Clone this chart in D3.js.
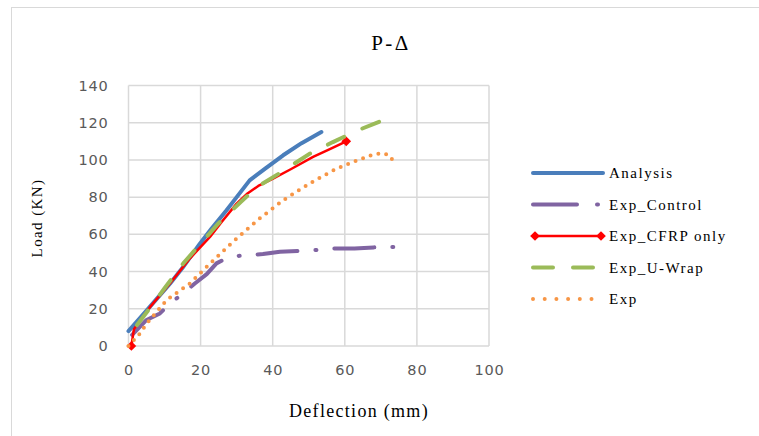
<!DOCTYPE html>
<html>
<head>
<meta charset="utf-8">
<script src="https://cdn.jsdelivr.net/npm/d3@7"></script>
<style>
  body { margin: 0; background: #fff; }
  svg { display: block; }
  .tick text { font-family: "DejaVu Sans", sans-serif; font-size: 14.5px; fill: #595959; letter-spacing: 0.8px; }
  .label { font-family: "Liberation Serif", "Times New Roman", serif; fill: #000; }
</style>
</head>
<body>
<svg width="759" height="436"></svg>
<script>
// series: [deflection mm, load kN]
var analysis = [[0,8],[5,19],[11.5,33.5],[15,42],[19.8,55],[23,63],[27.2,73],[30,80],[33.6,89],[38,95.5],[42.9,102.5],[48,109],[53.5,115]];
var expControl = [[1,6],[5,14],[8.7,17.5],[11.5,22.9],[15,28],[18.4,33.6],[21.7,38.6],[24.4,44.4],[27,47],[30,48.3],[32.7,48.8],[37.3,49.4],[42,50.6],[51.6,51.5],[56.2,52.4],[62.7,52.4],[68,53],[74.7,53.3]];
var expCfrp = [[0.8,0],[1.5,9],[6,21],[11.5,33.6],[17,47],[22.6,58.6],[26,67],[30,76.5],[33,82],[36,86],[40.1,90],[45,95],[51.2,101.6],[56,106],[60.4,110]];
var expUwrap = [[0,3],[0.3,6],[5,18],[10,31],[15.2,44.4],[20,55],[25,66],[30.9,77],[34,82.5],[37,87],[42,93],[50.3,103.4],[56.7,109.6],[64.1,116.3],[69.5,120.5]];
var exp = [[0,0],[3.2,6.8],[5,12],[10.6,24.7],[17,33.6],[23,45],[29,56],[36,68],[42.9,78.3],[47.5,84],[51.7,89],[57.7,95.3],[62.3,98.9],[67.3,102.5],[70.1,103.7],[72.5,102.5],[73.8,98]];

var xTicks = [0, 20, 40, 60, 80, 100];
var yTicks = [0, 20, 40, 60, 80, 100, 120, 140];

var series = [
  {name: "Analysis", data: analysis, color: "#4a7ebb", width: 4, dash: null, legendDash: null},
  {name: "Exp_Control", data: expControl, color: "#8064a2", width: 4, dash: "40,18,1,18", legendDash: "44,20,1,20"},
  {name: "Exp_CFRP only", data: expCfrp, color: "#ff0000", width: 2.5, dash: null, legendDash: null, marker: true},
  {name: "Exp_U-Wrap", data: expUwrap, color: "#9bbb59", width: 4, dash: "18,20", legendDash: "20,20", endDash: true},
  {name: "Exp", data: exp, color: "#f79646", width: 4, dash: "0,8", legendDash: "0,11.7"}
];

var svg = d3.select("svg"),
    margin = {top: 85.5, right: 270, bottom: 90, left: 128.5},
    width = +svg.attr("width") - margin.left - margin.right,
    height = +svg.attr("height") - margin.top - margin.bottom;

// chart area border
svg.append("rect")
    .attr("x", 11.5).attr("y", 7.5)
    .attr("width", 800).attr("height", 500)
    .attr("fill", "none")
    .attr("stroke", "#d9d9d9");

var g = svg.append("g").attr("transform", "translate(" + margin.left + "," + margin.top + ")");

var x = d3.scaleLinear().domain([0, 100]).range([0, 360.5]);
var y = d3.scaleLinear().domain([0, 140]).range([260.5, 0]);

// gridlines
g.append("g")
  .selectAll("line")
  .data(yTicks)
  .enter().append("line")
    .attr("x1", 0).attr("x2", x(100))
    .attr("y1", function(d) { return y(d); })
    .attr("y2", function(d) { return y(d); })
    .attr("stroke", "#d9d9d9").attr("stroke-width", 1.5);

g.append("g")
  .selectAll("line")
  .data(xTicks)
  .enter().append("line")
    .attr("y1", 0).attr("y2", y(0))
    .attr("x1", function(d) { return x(d); })
    .attr("x2", function(d) { return x(d); })
    .attr("stroke", "#d9d9d9").attr("stroke-width", 1.5);

// axes (labels only)
g.append("g")
    .attr("transform", "translate(0," + y(0) + ")")
    .call(d3.axisBottom(x).tickValues(xTicks).tickSize(0).tickPadding(19))
    .call(function(a) { a.select(".domain").remove(); });

g.append("g")
    .call(d3.axisLeft(y).tickValues(yTicks).tickSize(0).tickPadding(20))
    .call(function(a) { a.select(".domain").remove(); });

var line = d3.line()
    .x(function(d) { return x(d[0]); })
    .y(function(d) { return y(d[1]); });

series.forEach(function(s) {
  var p = g.append("path")
      .datum(s.data)
      .attr("d", line)
      .attr("fill", "none")
      .attr("stroke", s.color)
      .attr("stroke-width", s.width)
      .attr("stroke-linecap", "round")
      .attr("stroke-linejoin", "round")
      .attr("stroke-dasharray", s.dash);
  if (s.endDash) {
    // shift pattern so the line finishes on a dash, like the original
    var len = p.node().getTotalLength();
    p.attr("stroke-dashoffset", 18 - (len % 38));
  }
  if (s.marker) {
    g.selectAll(null)
      .data([s.data[0], s.data[s.data.length - 1]])
      .enter().append("path")
        .attr("d", d3.symbol().type(d3.symbolDiamond2).size(60))
        .attr("transform", function(d) { return "translate(" + x(d[0]) + "," + y(d[1]) + ")"; })
        .attr("fill", s.color);
  }
});

// titles
svg.append("text")
    .attr("class", "label")
    .attr("x", 391).attr("y", 50)
    .attr("text-anchor", "middle")
    .style("font-size", "21px")
    .style("letter-spacing", "2.5px")
    .text("P-\u0394");

svg.append("text")
    .attr("class", "label")
    .attr("x", 359).attr("y", 417)
    .attr("text-anchor", "middle")
    .style("font-size", "18px")
    .style("letter-spacing", "1.3px")
    .text("Deflection (mm)");

svg.append("text")
    .attr("class", "label")
    .attr("transform", "translate(42,218) rotate(-90)")
    .attr("text-anchor", "middle")
    .style("font-size", "15px")
    .style("letter-spacing", "1.4px")
    .text("Load (KN)");

// legend
var legend = svg.append("g")
    .selectAll("g")
    .data(series)
    .enter().append("g")
    .attr("transform", function(d, i) { return "translate(533," + (173 + i * 31.5) + ")"; });

legend.append("line")
    .attr("x1", 0).attr("x2", 70)
    .attr("stroke", function(d) { return d.color; })
    .attr("stroke-width", function(d) { return d.width; })
    .attr("stroke-linecap", "round")
    .attr("stroke-dasharray", function(d) { return d.legendDash; });

legend.filter(function(d) { return d.marker; })
  .selectAll("path")
  .data([2, 68])
  .enter().append("path")
    .attr("d", d3.symbol().type(d3.symbolDiamond2).size(60))
    .attr("transform", function(d) { return "translate(" + d + ",0)"; })
    .attr("fill", "#ff0000");

legend.append("text")
    .attr("class", "label")
    .attr("x", 76)
    .attr("dy", "0.35em")
    .style("font-size", "15px")
    .style("letter-spacing", "1.5px")
    .text(function(d) { return d.name; });
</script>
</body>
</html>
